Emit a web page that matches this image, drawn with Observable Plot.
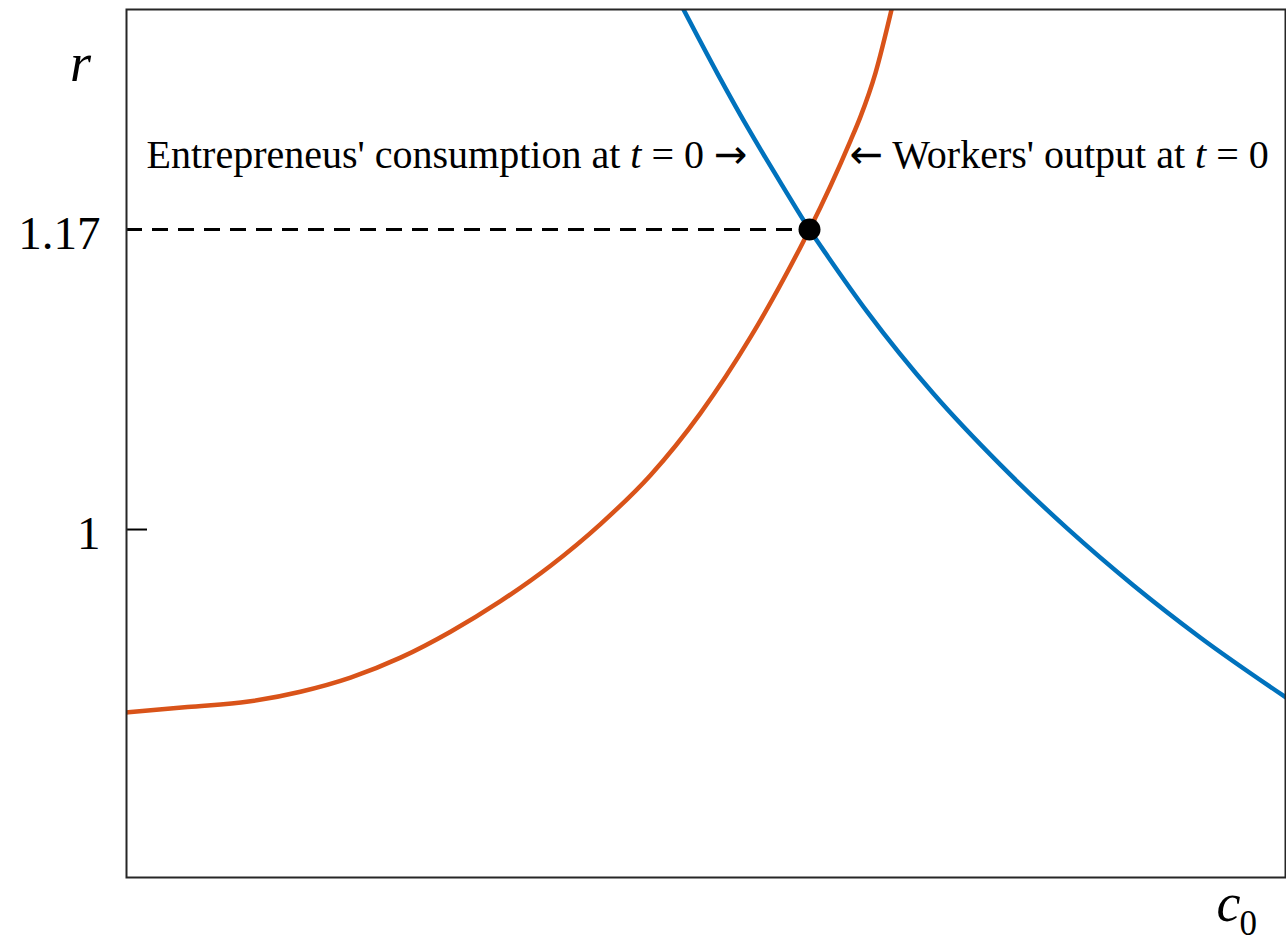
<!DOCTYPE html>
<html><head><meta charset="utf-8">
<script src="https://cdn.jsdelivr.net/npm/d3@7"></script>
<script src="https://cdn.jsdelivr.net/npm/@observablehq/plot@0.6"></script>
<style>body{margin:0;background:#fff} svg{display:block}</style>
</head><body><div id="chart"></div>
<script>
// Entrepreneurs' consumption at t = 0 (orange)
const redC0 = [0, 0.0526, 0.1053, 0.1501, 0.1933, 0.2364, 0.2796, 0.3227, 0.3659, 0.4090, 0.4521, 0.4953, 0.5384, 0.5815, 0.5893, 0.6247, 0.6333, 0.6462, 0.6601];
const redR  = [0.8963, 0.8994, 0.9025, 0.9081, 0.9161, 0.9274, 0.9421, 0.9594, 0.9795, 1.0031, 1.0308, 1.0660, 1.1090, 1.1600, 1.1700, 1.2204, 1.2340, 1.2587, 1.2947];
// Workers' output at t = 0 (blue)
const blueC0 = [0.4806, 0.5099, 0.5384, 0.5669, 0.5893, 0.6057, 0.6393, 0.6963, 0.7541, 0.8119, 0.8689, 0.9267, 1.0];
const blueR  = [1.2947, 1.2584, 1.2250, 1.1938, 1.1700, 1.1542, 1.1232, 1.0769, 1.0366, 1.0005, 0.9683, 0.9387, 0.9050];
// equilibrium
const eqC0 = [0.5893];
const eqR = [1.17];
// axes
const xDomain = [0, 1];
const yDomain = [0.8028, 1.2947];
const yTicks = [1, 1.17];
const yTickLabels = ["1", "1.17"];
const yTickMarks = [1];
const yLabel = "r";
const xLabel = "c";
const xLabelSub = "0";
// annotations
const annLabels = ["Entrepreneus' consumption at t = 0 \u2192", "\u2190 Workers' output at t = 0"];
const annC0 = [0.5358, 0.6238];
const annR = [1.2121, 1.2121];
const annAnchor = ["end", "start"];

const font = "'Liberation Serif', 'Times New Roman', serif";
const red = redC0.map((c, i) => ({c0: c, r: redR[i]}));
const blue = blueC0.map((c, i) => ({c0: c, r: blueR[i]}));
const eq = eqC0.map((c, i) => ({c0: c, r: eqR[i]}));
const ann = annLabels.map((t, i) => ({t, c0: annC0[i], r: annR[i], a: annAnchor[i]}));

const chart = Plot.plot({
  width: 1286, height: 942,
  marginLeft: 126, marginRight: 1, marginTop: 9, marginBottom: 65,
  style: {fontFamily: font, fontSize: "40px", background: "white", color: "black"},
  x: {domain: xDomain, axis: null},
  y: {domain: yDomain, axis: null},
  marks: [
    Plot.ruleY(eq, {x1: xDomain[0], x2: "c0", y: "r", stroke: "black", strokeWidth: 3, strokeDasharray: "16,10"}),
    Plot.line(red, {x: "c0", y: "r", stroke: "#D95319", strokeWidth: 4.5, curve: "monotone-x", clip: true}),
    Plot.line(blue, {x: "c0", y: "r", stroke: "#0072BD", strokeWidth: 4.5, curve: "monotone-x", clip: true}),
    Plot.dot(eq, {x: "c0", y: "r", r: 11, fill: "black"}),
    Plot.axisY({ticks: yTickMarks, tickSize: -21, tickFormat: () => "", stroke: "black", strokeWidth: 2, label: null}),
    Plot.axisY({ticks: yTicks, tickSize: 0, tickPadding: 26, tickFormat: d => yTickLabels[yTicks.indexOf(d)], fontSize: 47, fill: "black", dy: 4, label: null}),
    Plot.text(ann.filter(d => d.a === "end"), {x: "c0", y: "r", text: "t", textAnchor: "end", lineAnchor: "middle", fontSize: 40, fill: "black"}),
    Plot.text(ann.filter(d => d.a === "start"), {x: "c0", y: "r", text: "t", textAnchor: "start", lineAnchor: "middle", fontSize: 40, fill: "black"}),
    Plot.text([yLabel], {frameAnchor: "top-left", lineAnchor: "middle", dx: -46, dy: 54, textAnchor: "middle", fontSize: 54, fontStyle: "italic", fill: "black"}),
    Plot.text([xLabel], {frameAnchor: "bottom-right", lineAnchor: "middle", dx: -69, dy: 26, textAnchor: "start", fontSize: 54, fontStyle: "italic", fill: "black"}),
    Plot.frame({stroke: "#262626", strokeWidth: 2})
  ]
});
document.getElementById("chart").append(chart);

const ns = "http://www.w3.org/2000/svg";
function span(txt, attrs) {
  const e = document.createElementNS(ns, "tspan");
  for (const k in attrs) e.setAttribute(k, attrs[k]);
  e.textContent = txt;
  return e;
}
const arrowFont = "'DejaVu Sans', sans-serif";
chart.querySelectorAll("text").forEach(t => {
  const s = t.textContent;
  const target = t.querySelector("tspan") || t;
  if (s.includes("t = 0")) {
    const i = s.indexOf("t = 0");
    target.textContent = "";
    let head = s.slice(0, i);
    let tail = s.slice(i + 1);
    if (head.startsWith("\u2190")) {
      target.append(span("\u2190", {"font-family": arrowFont}));
      head = head.slice(1);
    }
    target.append(head);
    target.append(span("t", {"font-style": "italic"}));
    if (tail.endsWith("\u2192")) {
      target.append(tail.slice(0, -1));
      target.append(span("\u2192", {"font-family": arrowFont}));
    } else {
      target.append(tail);
    }
  } else if (s === xLabel) {
    target.append(span(xLabelSub, {"font-style": "normal", "font-size": "35", "dx": "-1", "dy": "14"}));
  }
});
</script></body></html>
